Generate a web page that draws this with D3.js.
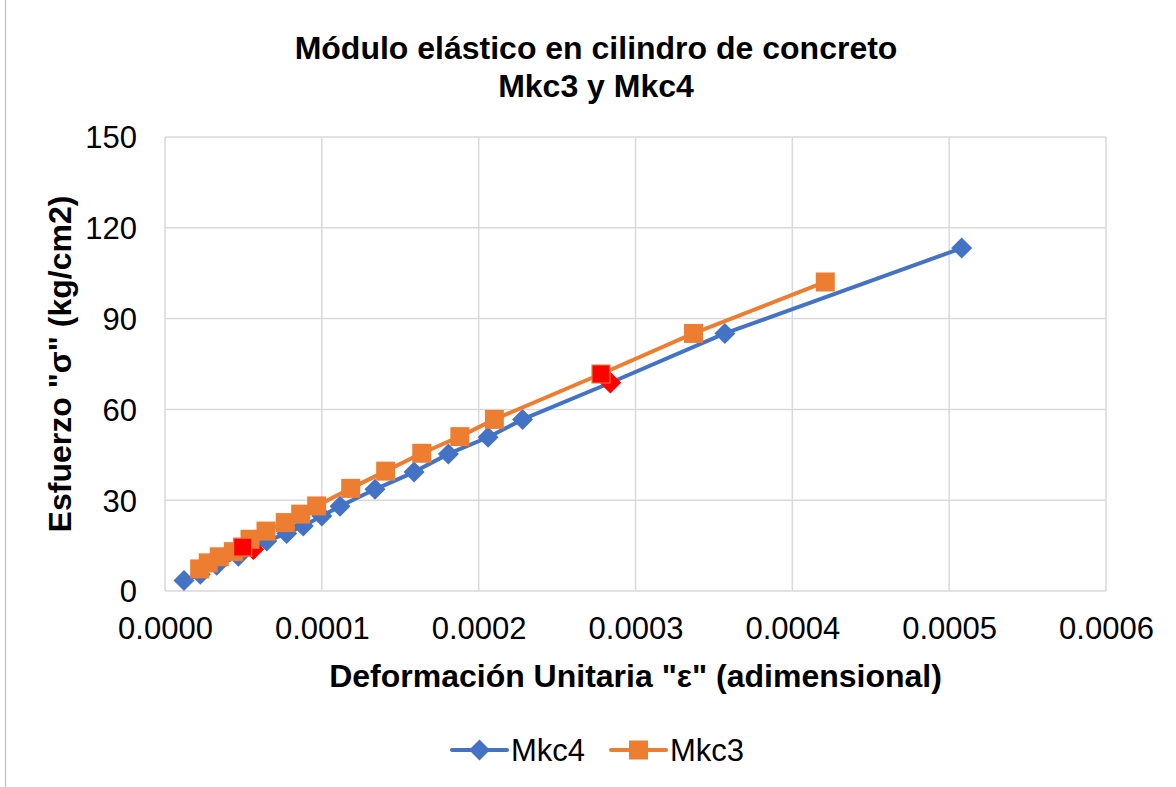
<!DOCTYPE html>
<html>
<head>
<meta charset="utf-8">
<script src="https://cdn.jsdelivr.net/npm/d3@7"></script>
<style>
  html, body { margin: 0; padding: 0; background: #fff; }
  svg { display: block; }
  text { font-family: "Liberation Sans", Arial, sans-serif; fill: #000; }
</style>
</head>
<body>
<svg id="chart" width="1176" height="787"></svg>
<script>
// ---- data ----
const titleLines = ["Módulo elástico en cilindro de concreto", "Mkc3 y Mkc4"];
const xTitle = 'Deformación Unitaria "ε" (adimensional)';
const yTitle = 'Esfuerzo "σ" (kg/cm2)';
const xTicks = [0, 0.0001, 0.0002, 0.0003, 0.0004, 0.0005, 0.0006];
const yTicks = [0, 30, 60, 90, 120, 150];

const mkc4X = [0.0000121, 0.0000225, 0.0000330, 0.0000468, 0.0000563, 0.0000649, 0.0000776, 0.0000882, 0.0001000, 0.0001116, 0.0001339, 0.0001588, 0.0001807, 0.0002060, 0.0002280, 0.0002840, 0.0003570, 0.0005080];
const mkc4Y = [3.5, 5.5, 8.5, 11.5, 13.8, 16.5, 19.0, 21.5, 24.8, 28.0, 33.6, 39.3, 45.3, 50.8, 56.7, 68.8, 85.1, 113.3];

const mkc3X = [0.0000221, 0.0000276, 0.0000346, 0.0000436, 0.0000495, 0.0000542, 0.0000644, 0.0000767, 0.0000865, 0.0000967, 0.0001184, 0.0001407, 0.0001637, 0.0001880, 0.0002100, 0.0002780, 0.0003370, 0.0004210];
const mkc3Y = [7.3, 9.3, 11.3, 13.0, 14.5, 17.1, 19.8, 22.6, 25.4, 28.1, 33.9, 39.6, 45.5, 51.0, 56.7, 71.7, 85.1, 102.1];

const highlighted = [4, 15];   // points drawn in red
const seriesNames = ["Mkc4", "Mkc3"];

// ---- layout ----
const svg = d3.select("#chart");
const W = 1176, H = 787;
const plot = { left: 165, right: 1106, top: 137, bottom: 591 };
const colors = { Mkc4: "#4472C4", Mkc3: "#ED7D31" };
const FONT = 31;
const TITLE_FONT = 32;
const LEGEND_FONT = 31;

svg.append("rect").attr("x", 0).attr("y", 0).attr("width", W).attr("height", H).attr("fill", "#fff");
svg.append("rect").attr("x", 5.5).attr("y", -5).attr("width", W + 20).attr("height", H + 20)
  .attr("fill", "none").attr("stroke", "#bfbfbf").attr("stroke-width", 1.2);

const x = d3.scaleLinear().domain([0, 0.0006]).range([plot.left, plot.right]);
const y = d3.scaleLinear().domain([0, 150]).range([plot.bottom, plot.top]);

// gridlines
const grid = svg.append("g");
grid.selectAll("line.v").data(xTicks).join("line")
  .attr("x1", d => x(d)).attr("x2", d => x(d))
  .attr("y1", plot.top).attr("y2", plot.bottom)
  .attr("stroke", "#d9d9d9").attr("stroke-width", 1.5);
grid.selectAll("line.h").data(yTicks).join("line")
  .attr("x1", plot.left).attr("x2", plot.right)
  .attr("y1", d => y(d)).attr("y2", d => y(d))
  .attr("stroke", "#d9d9d9").attr("stroke-width", 1.5);

// axes (tick labels only)
const xAxis = d3.axisBottom(x).tickValues(xTicks).tickFormat(d3.format(".4f")).tickSize(0).tickPadding(0);
const gx = svg.append("g").attr("transform", `translate(0,${plot.bottom})`).call(xAxis);
gx.select(".domain").remove();
gx.selectAll("text").attr("font-size", FONT).attr("font-family", '"Liberation Sans", Arial, sans-serif')
  .attr("fill", "#000").attr("dy", null).attr("y", 48);

const yAxis = d3.axisLeft(y).tickValues(yTicks).tickFormat(d3.format("d")).tickSize(0).tickPadding(0);
const gy = svg.append("g").attr("transform", `translate(${plot.left},0)`).call(yAxis);
gy.select(".domain").remove();
gy.selectAll("text").attr("font-size", FONT).attr("font-family", '"Liberation Sans", Arial, sans-serif')
  .attr("fill", "#000").attr("x", -28).attr("dy", "0.35em");

// series
const series = [
  { name: "Mkc4", xs: mkc4X, ys: mkc4Y, shape: "diamond" },
  { name: "Mkc3", xs: mkc3X, ys: mkc3Y, shape: "square" }
];
const line = d3.line().x(d => x(d[0])).y(d => y(d[1]));
const markerSize = { Mkc4: 21, Mkc3: 19 };

function markerPath(shape, s) {
  const h = s / 2;
  if (shape === "square") return `M${-h},${-h}H${h}V${h}H${-h}Z`;
  return `M0,${-h}L${h},0L0,${h}L${-h},0Z`;
}

series.forEach(sr => {
  const pts = sr.xs.map((v, i) => [v, sr.ys[i], i]);
  const g = svg.append("g");
  g.append("path").datum(pts).attr("d", line)
    .attr("fill", "none").attr("stroke", colors[sr.name]).attr("stroke-width", 4)
    .attr("stroke-linejoin", "round").attr("stroke-linecap", "round");
  const normal = pts.filter(p => !highlighted.includes(p[2]));
  const red = pts.filter(p => highlighted.includes(p[2]));
  g.selectAll("path.m").data(normal).join("path")
    .attr("transform", d => `translate(${x(d[0])},${y(d[1])})`)
    .attr("d", markerPath(sr.shape, markerSize[sr.name]))
    .attr("fill", colors[sr.name]);
  g.selectAll("path.r").data(red).join("path")
    .attr("transform", d => `translate(${x(d[0])},${y(d[1])})`)
    .attr("d", markerPath(sr.shape, markerSize[sr.name] - 1))
    .attr("fill", "#FF0000")
    .attr("stroke", sr.name === "Mkc3" ? colors[sr.name] : "#FF0000").attr("stroke-width", 1.2);
});

// titles
const title = svg.append("text").attr("text-anchor", "middle").attr("font-weight", "bold").attr("font-size", TITLE_FONT);
titleLines.forEach((t, i) => {
  title.append("tspan").attr("x", 596).attr("y", 59 + i * 38).text(t);
});

svg.append("text").attr("x", (plot.left + plot.right) / 2).attr("y", 687)
  .attr("text-anchor", "middle").attr("font-weight", "bold").attr("font-size", TITLE_FONT).text(xTitle);

svg.append("text").attr("transform", `translate(71,${(plot.top + plot.bottom) / 2}) rotate(-90)`)
  .attr("text-anchor", "middle").attr("font-weight", "bold").attr("font-size", TITLE_FONT).text(yTitle);

// legend
const legendItems = [
  { name: "Mkc4", shape: "diamond", x0: 452 },
  { name: "Mkc3", shape: "square", x0: 611 }
];
const ly = 750;
legendItems.forEach(it => {
  const g = svg.append("g");
  g.append("line").attr("x1", it.x0).attr("x2", it.x0 + 55).attr("y1", ly).attr("y2", ly)
    .attr("stroke", colors[it.name]).attr("stroke-width", 4).attr("stroke-linecap", "round");
  g.append("path").attr("transform", `translate(${it.x0 + 27.5},${ly})`)
    .attr("d", markerPath(it.shape, markerSize[it.name])).attr("fill", colors[it.name]);
  g.append("text").attr("x", it.x0 + 59).attr("y", ly + 11).attr("font-size", LEGEND_FONT).text(it.name);
});
</script>
</body>
</html>
